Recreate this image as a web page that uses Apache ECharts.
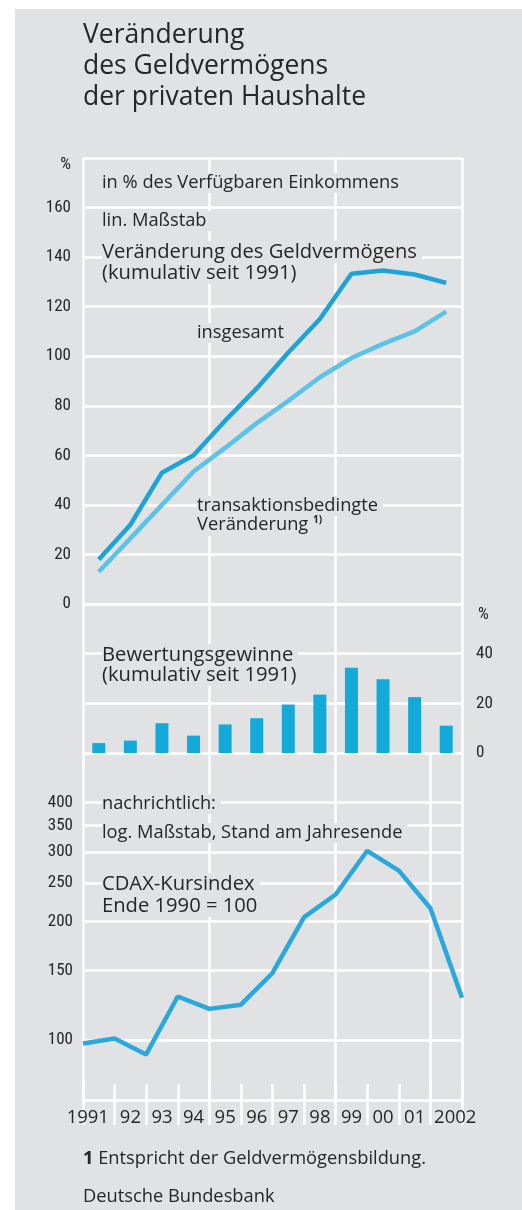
<!DOCTYPE html>
<html lang="de">
<head>
<meta charset="UTF-8" />
<title>Veränderung des Geldvermögens der privaten Haushalte</title>
<style>
  body { margin: 0; background: #fff }
  #wrap { position: relative; width: 522px; height: 1210px }
  #bg { position: absolute; left: 15px; top: 9px; right: 0; bottom: 0; background: #e1e2e4 }
  #chart { position: absolute; left: 0; top: 0; width: 522px; height: 1210px }
</style>
<script src="https://cdn.jsdelivr.net/npm/echarts@6/dist/echarts.min.js"></script>
</head>
<body>
<div id="wrap">
  <div id="bg"></div>
  <div id="chart"></div>
</div>
<script>
// Daten
const years = ['1991', '1992', '1993', '1994', '1995', '1996', '1997', '1998', '1999', '2000', '2001', '2002'];
const yearLabels = ['1991', '92', '93', '94', '95', '96', '97', '98', '99', '00', '01', '2002'];
// Veränderung des Geldvermögens, kumulativ seit 1991, in % des verfügbaren Einkommens
const insgesamt = [18, 32, 53, 60, 74, 87, 101.5, 115, 133.3, 134.6, 133, 129.6];
const transaktion = [13, 26.5, 40, 53.5, 63, 73, 82, 91.5, 99.3, 105, 110, 118];
// Bewertungsgewinne, kumulativ seit 1991
const bewertung = [4, 5, 12, 7, 11.5, 14, 19.5, 23.5, 34.3, 29.7, 22.5, 11];
// CDAX-Kursindex, Stand am Jahresende (Ende 1990 = 100)
const cdaxDates = ['1990', '1991', '1992', '1993', '1994', '1995', '1996', '1997', '1998', '1999', '2000', '2001', '2002'];
const cdax = [98, 101, 92, 129, 120, 123, 148, 205, 234, 302, 269, 216, 128];
const cdaxTicks = [100, 150, 200, 250, 300, 350, 400];

const bg = '#e1e2e4';
const ink = '#262626';
const grid = '#ffffff';
const textFont = "'Open Sans', 'Noto Sans', sans-serif";
const tickFont = "'Liberation Sans Narrow', 'Roboto Condensed', 'Open Sans', sans-serif";
const small = 18.3;
const large = 20.2;

const chart = echarts.init(document.getElementById('chart'));

// Texte: z 1.5 über den Gitterlinien, aber unter den Kurven
function txt(text, x, y, size, extra, z) {
  return {
    type: 'text', x: x, y: y, z: z || 1.5,
    style: Object.assign({
      text: text, fill: ink, fontSize: size, fontFamily: textFont,
      verticalAlign: 'middle', align: 'left'
    }, extra || {})
  };
}
// grauer Kasten hinter dem Text (deckt Gitterlinien ab), darunter gezeichnet
function boxed(text, x, y, size, extra) {
  const box = txt(text, x, y, size, Object.assign({}, extra || {}, {
    fill: 'rgba(0,0,0,0)', backgroundColor: bg, padding: [1, 5, 1, 0]
  }), 1);
  if (box.style.rich) {
    box.style.rich = Object.fromEntries(Object.entries(box.style.rich)
      .map(([k, r]) => [k, Object.assign({}, r, { fill: 'rgba(0,0,0,0)' })]));
  }
  return [box, txt(text, x, y, size, extra)];
}

const split = { show: true, interval: 3, lineStyle: { color: grid, width: 2.5 } };
const hidden = { show: false };

chart.setOption({
  animation: false,
  grid: [
    { left: 83, top: 158, width: 379, height: 446 },
    { left: 83, top: 604, width: 379, height: 149 },
    { left: 83, top: 753, width: 379, height: 347 }
  ],
  xAxis: [
    { gridIndex: 0, type: 'category', data: years, boundaryGap: true,
      axisLine: hidden, axisTick: hidden, axisLabel: hidden, splitLine: split },
    { gridIndex: 1, type: 'category', data: years, boundaryGap: true,
      axisLine: hidden, axisTick: hidden, axisLabel: hidden, splitLine: split },
    { gridIndex: 2, type: 'category', data: yearLabels, boundaryGap: true, position: 'bottom',
      axisLine: { show: true, lineStyle: { color: grid, width: 2.5 } },
      axisTick: { show: true, interval: 0, length: 25, lineStyle: { color: grid, width: 2.5 } },
      axisLabel: {
        interval: 0, margin: 8, color: ink, fontSize: 18.5, fontFamily: textFont,
        formatter: (v, i) => i === 0 ? '{f|' + v + '}' : (i === yearLabels.length - 1 ? '{l|' + v + '}' : v),
        rich: {
          f: { fontSize: 18.5, fontFamily: textFont, color: ink, padding: [0, 22, 0, 0] },
          l: { fontSize: 18.5, fontFamily: textFont, color: ink, padding: [0, 0, 0, 18] }
        }
      },
      splitLine: split },
    { gridIndex: 2, type: 'category', data: yearLabels, boundaryGap: true, position: 'bottom',
      axisLine: hidden, axisLabel: hidden, splitLine: hidden,
      axisTick: { show: true, inside: true, interval: 0, length: 16, lineStyle: { color: grid, width: 2.5 } } },
    { gridIndex: 2, type: 'category', data: cdaxDates, boundaryGap: false, show: false }
  ],
  yAxis: [
    { gridIndex: 0, type: 'value', min: 0, max: 180, interval: 20,
      axisLine: hidden, axisTick: hidden,
      axisLabel: { margin: 12, color: ink, fontSize: 17, fontFamily: tickFont,
        formatter: v => v === 180 ? '' : v },
      splitLine: { lineStyle: { color: grid, width: 2.5 } } },
    { gridIndex: 1, type: 'value', position: 'right', min: 0, max: 60, interval: 20,
      axisLine: hidden, axisTick: hidden,
      axisLabel: { margin: 14, color: ink, fontSize: 17, fontFamily: tickFont,
        formatter: v => v === 60 ? '' : v },
      splitLine: { lineStyle: { color: grid, width: 2.5 } } },
    { gridIndex: 2, type: 'log', logBase: 10, min: 70.5, max: 534.5,
      axisLine: hidden, axisTick: hidden, axisLabel: hidden, splitLine: hidden }
  ],
  series: [
    { name: 'insgesamt', type: 'line', xAxisIndex: 0, yAxisIndex: 0, data: insgesamt,
      symbol: 'none', z: 4, lineStyle: { color: '#1ea3d9', width: 4.5 } },
    { name: 'transaktionsbedingte Veränderung', type: 'line', xAxisIndex: 0, yAxisIndex: 0, data: transaktion,
      symbol: 'none', z: 3, lineStyle: { color: '#5cc2e6', width: 4.5 } },
    { name: 'Bewertungsgewinne', type: 'bar', xAxisIndex: 1, yAxisIndex: 1, data: bewertung,
      barWidth: 13, z: 3, itemStyle: { color: '#13aad9' } },
    { name: 'CDAX-Kursindex', type: 'line', xAxisIndex: 4, yAxisIndex: 2, data: cdax,
      symbol: 'none', z: 4, lineStyle: { color: '#2aa7dc', width: 4.5 },
      markLine: {
        silent: true, z: 0, symbol: 'none',
        lineStyle: { color: grid, width: 2.5, type: 'solid' },
        label: { position: 'start', distance: 10, formatter: '{c}', color: ink, fontSize: 17, fontFamily: tickFont },
        emphasis: { disabled: true },
        data: cdaxTicks.map(v => ({ yAxis: v }))
      } }
  ],
  graphic: [
    txt('Veränderung\ndes Geldvermögens\nder privaten Haushalte', 83, 66, 26.5, { lineHeight: 31 }),
    txt('%', 71, 165, 17, { fontFamily: tickFont, align: 'right' }),
    ...boxed('in % des Verfügbaren Einkommens', 102, 183, small),
    ...boxed('lin. Maßstab', 102, 221, small),
    ...boxed('Veränderung des Geldvermögens', 102, 252, large),
    ...boxed('(kumulativ seit 1991)', 102, 273, large),
    ...boxed('insgesamt', 197, 333, small),
    ...boxed('transaktionsbedingte', 197, 506, small),
    ...boxed('{t|Veränderung} {s|1)}', 197, 525, small, {
      rich: {
        t: { fontSize: small, fontFamily: textFont, fill: ink, lineHeight: 20 },
        s: { fontSize: 10, fontFamily: textFont, fontWeight: 'bold', fill: ink, verticalAlign: 'top', lineHeight: 20 }
      }
    }),
    txt('%', 478, 615, 17, { fontFamily: tickFont }),
    ...boxed('Bewertungsgewinne', 102, 655, large),
    ...boxed('(kumulativ seit 1991)', 102, 675, large),
    ...boxed('nachrichtlich:', 102, 804, small),
    ...boxed('log. Maßstab, Stand am Jahresende', 102, 833, small),
    ...boxed('CDAX-Kursindex', 102, 884, large),
    ...boxed('Ende 1990 = 100', 102, 906, large),
    txt('{b|1} Entspricht der Geldvermögensbildung.', 83, 1159, small, {
      rich: { b: { fontSize: small, fontFamily: textFont, fontWeight: 'bold', fill: ink } }
    }),
    txt('Deutsche Bundesbank', 83, 1197, small)
  ]
});
</script>
</body>
</html>
